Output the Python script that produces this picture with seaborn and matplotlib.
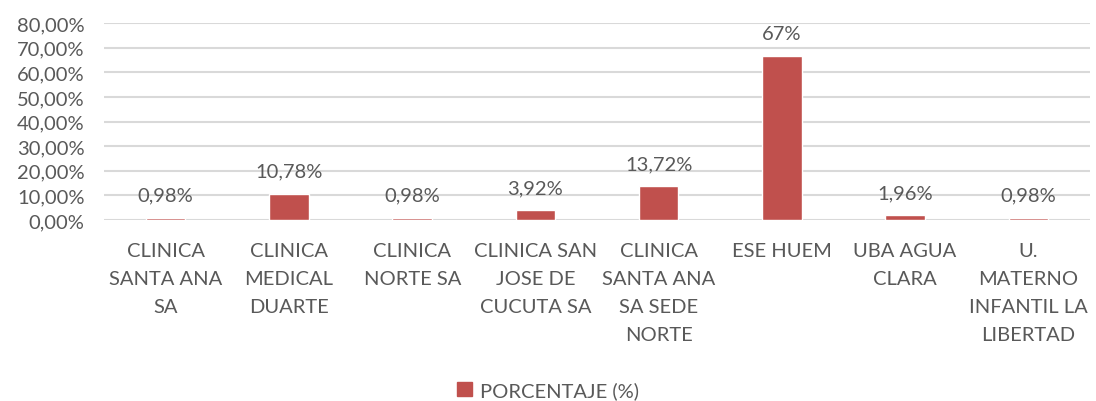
import matplotlib.pyplot as plt
import matplotlib.ticker as mticker
from matplotlib.patches import Patch
import seaborn as sns
import pandas as pd

# Data
categories = ['CLINICA\nSANTA ANA\nSA', 'CLINICA\nMEDICAL\nDUARTE', 'CLINICA\nNORTE SA',
              'CLINICA SAN\nJOSE DE\nCUCUTA SA', 'CLINICA\nSANTA ANA\nSA SEDE\nNORTE',
              'ESE HUEM', 'UBA AGUA\nCLARA', 'U.\nMATERNO\nINFANTIL LA\nLIBERTAD']
values = [0.98, 10.78, 0.98, 3.92, 13.72, 66.67, 1.96, 0.98]
value_labels = ['0,98%', '10,78%', '0,98%', '3,92%', '13,72%', '67%', '1,96%', '0,98%']
series_name = 'PORCENTAJE (%)'

sns.set_style('white')
plt.rcParams['font.family'] = ['Lato', 'DejaVu Sans']
text_color = '#595959'
bar_color = '#C0504D'
fs = 14.5

df = pd.DataFrame({'category': categories, 'value': values})

fig = plt.figure(figsize=(10.96, 4.02), dpi=100)
ax = fig.add_axes([0.095, 0.45, 0.8995, 0.49])

sns.barplot(data=df, x='category', y='value', color=bar_color, width=0.32,
            saturation=1, ax=ax, zorder=3)

ax.set_ylim(0, 80)
ax.yaxis.set_major_locator(mticker.MultipleLocator(10))
ax.yaxis.set_major_formatter(mticker.FuncFormatter(lambda v, _: f'{v:.2f}%'.replace('.', ',')))
ax.grid(axis='y', color='#D9D9D9', linewidth=1.5, zorder=0)
for s in ax.spines.values():
    s.set_visible(False)

ax.set_xlabel('')
ax.set_ylabel('')
ax.tick_params(axis='y', labelsize=fs, colors=text_color, length=0, pad=14)
ax.tick_params(axis='x', labelsize=fs, colors=text_color, length=0, pad=16)
for t in ax.get_xticklabels():
    t.set_linespacing(1.78)
    t.set_verticalalignment('top')

ax.bar_label(ax.containers[0], labels=value_labels, padding=10,
             fontsize=fs, color=text_color)

fig.legend(handles=[Patch(color=bar_color, label=series_name)], loc='lower center',
           bbox_to_anchor=(0.5, -0.04), frameon=False, fontsize=fs,
           handlelength=0.75, handleheight=0.75, handletextpad=0.4, labelcolor=text_color)

fig.savefig('out.png', dpi=100)
